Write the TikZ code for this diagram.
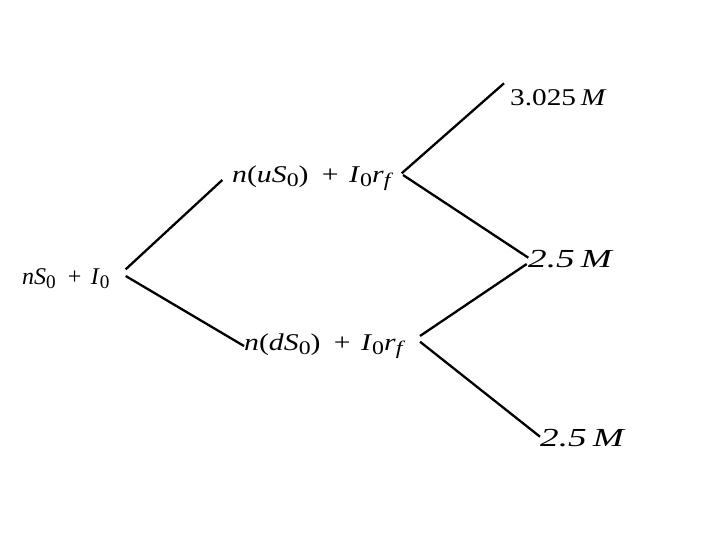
\documentclass[tikz,border=0pt]{standalone}
\usepackage{fontspec}
\setmainfont{Liberation Serif}
\newcommand{\lowsub}[1]{\raisebox{-0.35ex}{\scalebox{0.8}{#1}}}
\tikzset{
  lbl/.style={anchor=west, inner sep=0pt, font=\fontsize{24}{28}\selectfont},
  big/.style={anchor=west, inner sep=0pt, font=\fontsize{26}{30}\selectfont},
  mid/.style={anchor=west, inner sep=0pt, font=\fontsize{24}{28}\selectfont},
  branch/.style={line width=2.3pt, black}
}
\begin{document}
\begin{tikzpicture}[x=1pt,y=-1pt]
\useasboundingbox (0,0) rectangle (720,540);
% nodes
\node[lbl] (root) at (22,279) {\scalebox{1.0}[1]{\textit{nS}\lowsub{0}\hspace{0.5em}+\hspace{0.4em}\textit{I}\lowsub{0}}};
\node[lbl] (up) at (232,178) {\scalebox{1.24}[1]{\textit{n}(\textit{uS}\lowsub{0})\hspace{0.45em}+\hspace{0.35em}\textit{I}\lowsub{0}\textit{r}\lowsub{\textit{f}}}};
\node[lbl] (dn) at (244,346) {\scalebox{1.24}[1]{\textit{n}(\textit{dS}\lowsub{0})\hspace{0.45em}+\hspace{0.35em}\textit{I}\lowsub{0}\textit{r}\lowsub{\textit{f}}}};
\node[mid] (uu) at (510,98) {\scalebox{1.22}[1]{3.025\,\textit{M}}};
\node[big] (ud) at (528,259) {\scalebox{1.43}[1]{\textit{2.5\,M}}};
\node[big] (dd) at (540,438) {\scalebox{1.43}[1]{\textit{2.5\,M}}};
% ports
\coordinate (rootU) at (125.7,269.3);
\coordinate (rootD) at (125.7,276);
\coordinate (upIn) at (222.3,180);
\coordinate (dnIn) at (244,346);
\coordinate (upOutU) at (401.7,173.3);
\coordinate (upOutD) at (403,175);
\coordinate (dnOutU) at (420,336);
\coordinate (dnOutD) at (420,341.7);
\coordinate (uuIn) at (504,83.3);
\coordinate (udInA) at (528.3,257.7);
\coordinate (udInB) at (526.7,264);
\coordinate (ddIn) at (540,436.7);
% connectors
\draw[branch] (rootU) -- (upIn);
\draw[branch] (rootD) -- (dnIn);
\draw[branch] (upOutU) -- (uuIn);
\draw[branch] (upOutD) -- (udInA);
\draw[branch] (dnOutU) -- (udInB);
\draw[branch] (dnOutD) -- (ddIn);
\end{tikzpicture}
\end{document}
